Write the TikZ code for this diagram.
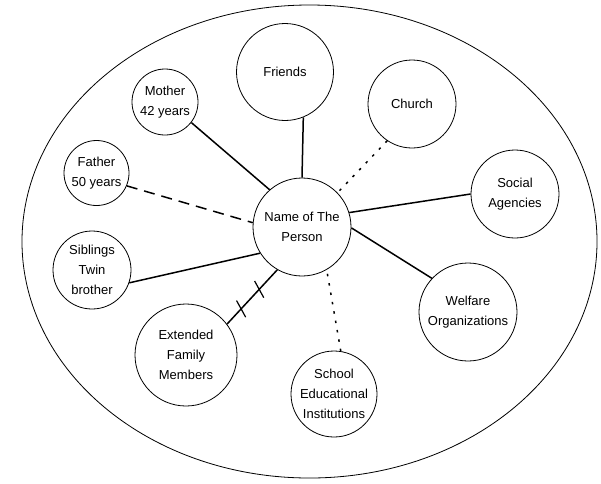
\documentclass[tikz,border=0pt]{standalone}
\usepackage{fontspec}
\setmainfont{Liberation Sans}
\usetikzlibrary{decorations.markings,shapes.geometric}
\begin{document}
\begin{tikzpicture}[x=1pt,y=-1pt,
  every node/.style={font=\fontsize{13}{20}\selectfont},
  circ/.style={draw,circle,line width=0.8pt,inner sep=0pt,align=center},
  link/.style={line width=1.5pt},
  dashlink/.style={line width=1.5pt,dash pattern=on 11pt off 7pt},
  dotlink/.style={line width=1.5pt,dash pattern=on 2.5pt off 7pt},
  hatched/.style={line width=1.5pt,postaction={decorate},
    decoration={markings,
      mark=at position 0.28 with {\draw[line width=1.2pt] (-3pt,-9pt)--(3pt,9pt);},
      mark=at position 0.64 with {\draw[line width=1.2pt] (-3pt,-9pt)--(3pt,9pt);}}}
]
\useasboundingbox (0,0) rectangle (601,483);
\node[draw,ellipse,line width=0.8pt,minimum width=575pt,minimum height=473pt,inner sep=0pt] (outer) at (309.5,241.5) {};
\node[circ,minimum size=98pt] (c) at (302,227) {Name of The\\Person};
\node[circ,minimum size=97pt] (friends) at (285,72) {Friends};
\node[circ,minimum size=88pt] (church) at (412,104) {Church};
\node[circ,minimum size=88pt] (social) at (515,194) {Social\\Agencies};
\node[circ,minimum size=98pt] (welfare) at (468,312) {Welfare\\Organizations};
\node[circ,minimum size=86pt] (school) at (334,394) {School\\Educational\\Institutions};
\node[circ,minimum size=102pt] (ext) at (186,355) {Extended\\Family\\Members};
\node[circ,minimum size=78pt] (sib) at (92,270) {Siblings\\Twin\\brother};
\node[circ,minimum size=65pt] (father) at (96.5,173) {Father\\50 years};
\node[circ,minimum size=66pt] (mother) at (165,102) {Mother\\42 years};
\draw[link] (mother.-38) -- (c.131);
\draw[link] (friends.-68) -- (c.90);
\draw[dotlink] (church.236) -- (c.44);
\draw[dashlink] (father.-23) -- (c.175);
\draw[link] (social.180) -- (c.17);
\draw[link] (sib.-19) -- (c.212);
\draw[link] (welfare.137) -- (c.-1);
\draw[hatched] (ext.37) -- (c.240);
\draw[dotlink] (school.81) -- (c.-60);
\end{tikzpicture}
\end{document}
